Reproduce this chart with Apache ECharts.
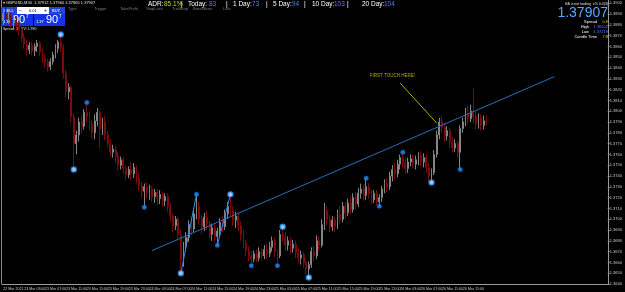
<!DOCTYPE html>
<html>
<head>
<meta charset="utf-8">
<script src="https://cdn.jsdelivr.net/npm/echarts@6/dist/echarts.min.js"></script>
<style>
  html, body { margin: 0; padding: 0; background: #000; }
  #chart { width: 625px; height: 292px; }
</style>
</head>
<body>
<div id="chart"></div>
<script>
// GBPUSD M30, one label every 8 bars (4 hours)
const tickLabels = ['22 Mar 2021', '23 Mar 03:00', '23 Mar 07:00', '23 Mar 11:00', '23 Mar 15:00', '23 Mar 19:00',
  '23 Mar 23:00', '24 Mar 03:00', '24 Mar 07:00', '24 Mar 11:00', '24 Mar 15:00', '24 Mar 19:00',
  '24 Mar 23:00', '25 Mar 03:00', '25 Mar 07:00', '25 Mar 11:00', '25 Mar 15:00', '25 Mar 19:00',
  '25 Mar 23:00', '26 Mar 03:00', '26 Mar 07:00', '26 Mar 11:00', '26 Mar 15:00', '26 Mar 19:00'];
const barsPerLabel = 8;
const totalSlots = 232; // bars + empty chart shift on the right

// [open, close, low, high]
const candles = [
  [1.3884,1.3890,1.3880,1.3895],[1.3890,1.3886,1.3882,1.3897],[1.3886,1.3888,1.3881,1.3893],[1.3888,1.3882,1.3878,1.3891],
  [1.3882,1.3884,1.3877,1.3889],[1.3884,1.3879,1.3874,1.3887],[1.3879,1.3876,1.3870,1.3883],[1.3876,1.3868,1.3864,1.3880],
  [1.3868,1.3862,1.3858,1.3872],[1.3862,1.3857,1.3852,1.3866],[1.3857,1.3861,1.3853,1.3864],[1.3861,1.3856,1.3852,1.3864],
  [1.3856,1.3860,1.3851,1.3863],[1.3860,1.3863,1.3855,1.3866],[1.3863,1.3855,1.3851,1.3865],[1.3855,1.3849,1.3845,1.3858],
  [1.3849,1.3845,1.3840,1.3853],[1.3845,1.3841,1.3837,1.3848],[1.3841,1.3846,1.3838,1.3849],[1.3846,1.3852,1.3843,1.3855],
  [1.3852,1.3858,1.3849,1.3862],[1.3858,1.3864,1.3854,1.3866],[1.3864,1.3859,1.3855,1.3871],[1.3859,1.3835,1.3830,1.3862],
  [1.3835,1.3818,1.3813,1.3838],[1.3818,1.3822,1.3811,1.3826],[1.3822,1.3795,1.3790,1.3824],[1.3795,1.3770,1.3746,1.3798],
  [1.3770,1.3778,1.3760,1.3782],[1.3778,1.3790,1.3772,1.3794],[1.3790,1.3786,1.3779,1.3796],[1.3786,1.3799,1.3783,1.3802],
  [1.3799,1.3795,1.3790,1.3808],[1.3795,1.3788,1.3782,1.3800],[1.3788,1.3780,1.3775,1.3792],[1.3780,1.3791,1.3774,1.3797],
  [1.3791,1.3799,1.3786,1.3803],[1.3799,1.3783,1.3766,1.3801],[1.3783,1.3790,1.3778,1.3794],[1.3790,1.3778,1.3773,1.3795],
  [1.3778,1.3770,1.3766,1.3782],[1.3770,1.3762,1.3758,1.3774],[1.3762,1.3765,1.3757,1.3769],[1.3765,1.3758,1.3752,1.3768],
  [1.3758,1.3750,1.3745,1.3762],[1.3750,1.3755,1.3746,1.3758],[1.3755,1.3747,1.3742,1.3757],[1.3747,1.3741,1.3736,1.3750],
  [1.3741,1.3746,1.3738,1.3749],[1.3746,1.3742,1.3736,1.3752],[1.3742,1.3748,1.3738,1.3752],[1.3748,1.3738,1.3733,1.3750],
  [1.3738,1.3731,1.3726,1.3742],[1.3731,1.3726,1.3720,1.3735],[1.3726,1.3730,1.3711,1.3733],[1.3730,1.3724,1.3719,1.3734],
  [1.3724,1.3728,1.3718,1.3732],[1.3728,1.3721,1.3716,1.3731],[1.3721,1.3725,1.3715,1.3728],[1.3725,1.3719,1.3713,1.3728],
  [1.3719,1.3723,1.3714,1.3727],[1.3723,1.3717,1.3712,1.3726],[1.3717,1.3721,1.3712,1.3724],[1.3721,1.3712,1.3707,1.3724],
  [1.3712,1.3703,1.3698,1.3715],[1.3703,1.3694,1.3688,1.3706],[1.3694,1.3700,1.3690,1.3703],[1.3700,1.3686,1.3680,1.3702],
  [1.3686,1.3662,1.3650,1.3690],[1.3662,1.3675,1.3656,1.3679],[1.3675,1.3683,1.3670,1.3688],[1.3683,1.3695,1.3679,1.3699],
  [1.3695,1.3691,1.3685,1.3702],[1.3691,1.3705,1.3688,1.3710],[1.3705,1.3712,1.3700,1.3723],[1.3712,1.3700,1.3695,1.3716],
  [1.3700,1.3693,1.3687,1.3704],[1.3693,1.3702,1.3689,1.3706],[1.3702,1.3695,1.3690,1.3708],[1.3695,1.3686,1.3682,1.3699],
  [1.3686,1.3692,1.3680,1.3696],[1.3692,1.3684,1.3679,1.3695],[1.3684,1.3689,1.3676,1.3692],[1.3689,1.3697,1.3684,1.3701],
  [1.3697,1.3693,1.3688,1.3703],[1.3693,1.3705,1.3690,1.3709],[1.3705,1.3712,1.3700,1.3716],[1.3712,1.3708,1.3703,1.3723],
  [1.3708,1.3699,1.3694,1.3712],[1.3699,1.3703,1.3692,1.3707],[1.3703,1.3694,1.3689,1.3706],[1.3694,1.3686,1.3680,1.3698],
  [1.3686,1.3678,1.3673,1.3690],[1.3678,1.3671,1.3666,1.3681],[1.3671,1.3666,1.3661,1.3675],[1.3666,1.3663,1.3657,1.3670],
  [1.3663,1.3668,1.3660,1.3671],[1.3668,1.3664,1.3660,1.3672],[1.3664,1.3670,1.3661,1.3674],[1.3670,1.3666,1.3662,1.3673],
  [1.3666,1.3672,1.3663,1.3676],[1.3672,1.3668,1.3664,1.3677],[1.3668,1.3674,1.3665,1.3679],[1.3674,1.3680,1.3670,1.3684],
  [1.3680,1.3670,1.3665,1.3683],[1.3670,1.3666,1.3657,1.3672],[1.3666,1.3686,1.3664,1.3690],[1.3686,1.3684,1.3679,1.3693],
  [1.3684,1.3676,1.3671,1.3688],[1.3676,1.3680,1.3671,1.3684],[1.3680,1.3673,1.3668,1.3683],[1.3673,1.3677,1.3669,1.3681],
  [1.3677,1.3669,1.3664,1.3680],[1.3669,1.3664,1.3659,1.3673],[1.3664,1.3667,1.3658,1.3671],[1.3667,1.3660,1.3655,1.3670],
  [1.3660,1.3654,1.3649,1.3663],[1.3654,1.3658,1.3646,1.3661],[1.3658,1.3670,1.3655,1.3674],[1.3670,1.3666,1.3661,1.3675],
  [1.3666,1.3680,1.3663,1.3685],[1.3680,1.3676,1.3671,1.3684],[1.3676,1.3695,1.3674,1.3700],[1.3695,1.3708,1.3690,1.3715],
  [1.3708,1.3700,1.3694,1.3712],[1.3700,1.3693,1.3688,1.3704],[1.3693,1.3699,1.3689,1.3703],[1.3699,1.3694,1.3688,1.3702],
  [1.3694,1.3705,1.3691,1.3709],[1.3705,1.3700,1.3696,1.3712],[1.3700,1.3712,1.3697,1.3716],[1.3712,1.3706,1.3701,1.3716],
  [1.3706,1.3715,1.3703,1.3719],[1.3715,1.3709,1.3704,1.3720],[1.3709,1.3720,1.3706,1.3724],[1.3720,1.3714,1.3709,1.3725],
  [1.3714,1.3724,1.3711,1.3729],[1.3724,1.3728,1.3719,1.3733],[1.3728,1.3722,1.3717,1.3732],[1.3722,1.3730,1.3718,1.3738],
  [1.3730,1.3724,1.3719,1.3733],[1.3724,1.3718,1.3714,1.3728],[1.3718,1.3724,1.3715,1.3727],[1.3724,1.3716,1.3713,1.3727],
  [1.3716,1.3720,1.3712,1.3723],[1.3720,1.3728,1.3716,1.3731],[1.3728,1.3733,1.3724,1.3737],[1.3733,1.3730,1.3725,1.3738],
  [1.3730,1.3740,1.3727,1.3744],[1.3740,1.3746,1.3735,1.3750],[1.3746,1.3742,1.3737,1.3752],[1.3742,1.3751,1.3739,1.3755],
  [1.3751,1.3757,1.3746,1.3760],[1.3757,1.3752,1.3747,1.3762],[1.3752,1.3747,1.3742,1.3756],[1.3747,1.3753,1.3743,1.3757],
  [1.3753,1.3756,1.3749,1.3760],[1.3756,1.3751,1.3747,1.3760],[1.3751,1.3755,1.3746,1.3759],[1.3755,1.3759,1.3750,1.3762],
  [1.3759,1.3753,1.3749,1.3763],[1.3753,1.3757,1.3748,1.3761],[1.3757,1.3748,1.3743,1.3760],[1.3748,1.3740,1.3735,1.3752],
  [1.3740,1.3743,1.3734,1.3747],[1.3743,1.3760,1.3741,1.3764],[1.3760,1.3778,1.3757,1.3782],[1.3778,1.3790,1.3774,1.3794],
  [1.3790,1.3785,1.3780,1.3796],[1.3785,1.3777,1.3772,1.3789],[1.3777,1.3782,1.3773,1.3786],[1.3782,1.3772,1.3766,1.3785],
  [1.3772,1.3766,1.3762,1.3776],[1.3766,1.3770,1.3762,1.3774],[1.3770,1.3762,1.3757,1.3773],[1.3762,1.3784,1.3746,1.3787],
  [1.3784,1.3790,1.3780,1.3794],[1.3790,1.3798,1.3786,1.3803],[1.3798,1.3793,1.3788,1.3805],[1.3793,1.3800,1.3790,1.3806],
  [1.3800,1.3795,1.3789,1.3821],[1.3795,1.3788,1.3783,1.3800],[1.3788,1.3794,1.3784,1.3798],[1.3794,1.3787,1.3782,1.3797],
  [1.3787,1.3791,1.3783,1.3796],[1.3791,1.37907,1.37865,1.37960]
];

// fractal markers (bar indexes)
const swingHighs = [22, 32, 74, 87, 107, 139, 153];
const swingLows = [27, 54, 68, 82, 95, 105, 117, 144, 164, 175];
const hollowSwings = [22, 27, 68, 87, 107, 117, 164];
const zigzags = [[68, 74], [82, 87]]; // low bar -> high bar

const trendline = [[57, 1.3671], [211, 1.3832]];
const noteText = 'FIRST TOUCH HERE!';
const notePos = [149, 1.3833];
const noteArrow = [[152, 1.3826], [166, 1.3789]];

const priceMin = 1.3640, priceMax = 1.3903, priceStep = 0.0010;

const chart = echarts.init(document.getElementById('chart'));

const categories = [];
for (let i = 0; i < totalSlots; i++) categories.push(String(i));

const dotBlue = '#1e90ff';
function swingPoint(i, isHigh) {
  const hollow = hollowSwings.includes(i);
  return {
    value: [i, isHigh ? candles[i][3] : candles[i][2]],
    symbolSize: hollow ? 5 : 4.5,
    itemStyle: hollow
      ? { color: '#d6ecff', borderColor: dotBlue, borderWidth: 1.4 }
      : { color: dotBlue, borderColor: '#0a5fd0', borderWidth: 0.5 }
  };
}
const swingData = swingHighs.map(i => swingPoint(i, true))
  .concat(swingLows.map(i => swingPoint(i, false)));

const zigzagSeries = zigzags.map(z => ({
  type: 'line',
  data: [[z[0], candles[z[0]][2]], [z[1], candles[z[1]][3]]],
  symbol: 'none',
  lineStyle: { color: '#2d8cf0', width: 1 },
  silent: true,
  z: 3
}));

const lastClose = candles[candles.length - 1][1];

const font = 'Liberation Sans, Arial, sans-serif';
function txt(x, y, s, size, fill, extra) {
  return Object.assign({ type: 'text', left: x, top: y, style: { text: s, fontSize: size, fill: fill, fontFamily: font } }, extra || {});
}

const adr = [
  [148, 'ADR:', '#ffffff'], [164, '85.1%', '#c8d400'], [181, '|', '#ffffff'],
  [188, 'Today:', '#ffffff'], [209, '83', '#4f7fff'], [226, '|', '#ffffff'],
  [233, '1 Day:', '#ffffff'], [252, '73', '#4f7fff'], [266, '|', '#ffffff'],
  [273, '5 Day:', '#ffffff'], [292, '94', '#4f7fff'], [304, '|', '#ffffff'],
  [312, '10 Day:', '#ffffff'], [334, '103', '#4f7fff'], [347, '|', '#ffffff'],
  [362, '20 Day:', '#ffffff'], [384, '104', '#4f7fff']
];
const menu = [[68, 'Type'], [94, 'Trigger'], [120, 'TakeProfit'], [146, 'StopLoss'], [172, 'TrailStop'], [193, 'BreakEven'], [223, 'Lots']];

const graphics = [
  { type: 'line', shape: { x1: 1.5, y1: 0, x2: 1.5, y2: 284 }, style: { stroke: '#8a8a8a', lineWidth: 1 } },
  txt(3, 1, '\u25BE GBPUSD,M30  1.37912 1.37960 1.37865 1.37907', 4, '#e0e0e0'),
  // trade panel
  { type: 'rect', shape: { x: 1, y: 7, width: 16, height: 7 }, style: { fill: '#2145d6' } },
  txt(4, 8.5, 'SELL', 4, '#ffffff'),
  { type: 'rect', shape: { x: 17, y: 7, width: 32, height: 7 }, style: { fill: '#ffffff' } },
  txt(19, 8, '\u2212', 5, '#000000'),
  txt(29, 8.5, '0.01', 4, '#000000'),
  txt(44, 8, '+', 5, '#000000'),
  { type: 'rect', shape: { x: 49, y: 7, width: 16, height: 7 }, style: { fill: '#2145d6' } },
  txt(52, 8.5, 'BUY', 4, '#ffffff'),
  { type: 'rect', shape: { x: 1, y: 14, width: 32, height: 12 }, style: { fill: '#1433e6' } },
  { type: 'rect', shape: { x: 34, y: 14, width: 31, height: 12 }, style: { fill: '#1433e6' } },
  txt(3, 20, '1.37', 4, '#ffffff'),
  txt(13, 14.5, '90', 11, '#ffffff'),
  txt(26, 14.5, '7', 4.5, '#ffffff'),
  txt(36, 20, '1.37', 4, '#ffffff'),
  txt(46, 14.5, '90', 11, '#ffffff'),
  txt(59, 14.5, '7', 4.5, '#ffffff'),
  txt(3, 27, 'Spread: 1   PV: 1.990', 3.5, '#e0e0e0'),
  // right info panel
  txt(null, 2, 'EA is not trading  \u00B1% 0.0(3)', 3.5, '#e0e0e0', { right: 17 }),
  txt(null, 6, '1.37907', 14, '#58a6ff', { right: 17 }),
  txt(null, 20, 'Spread', 4, '#ffffff', { right: 28 }),
  txt(null, 20, '0.9', 4, '#e0c800', { right: 17 }),
  txt(null, 25, 'High', 4, '#ffffff', { right: 36 }),
  txt(null, 25, '1.38102', 4, '#4f7fff', { right: 17 }),
  txt(null, 30, 'Low', 4, '#ffffff', { right: 36 }),
  txt(null, 30, '1.37219', 4, '#4f7fff', { right: 17 }),
  txt(null, 35, 'Candle Time', 4, '#ffffff', { right: 28 }),
  txt(null, 35, '7:8', 4, '#e0c800', { right: 17 })
];
adr.forEach(a => graphics.push(txt(a[0], 1, a[1], 6.5, a[2])));
menu.forEach(m => graphics.push(txt(m[0], 7, m[1], 4, '#7d7d7d')));

const labelShown = (i) => i % barsPerLabel === 0 && i / barsPerLabel < tickLabels.length;

const option = {
  backgroundColor: '#000000',
  animation: false,
  grid: { left: 2, right: 14, top: 0, bottom: 8 },
  xAxis: {
    type: 'category',
    data: categories,
    boundaryGap: true,
    axisLine: { lineStyle: { color: '#9a9a9a', width: 1 } },
    axisTick: { alignWithLabel: true, length: 2, lineStyle: { color: '#9a9a9a' }, interval: labelShown },
    axisLabel: {
      interval: labelShown,
      formatter: (v, i) => tickLabels[i / barsPerLabel] || '',
      color: '#c8c8c8', fontSize: 3.6, fontFamily: font, align: 'left', margin: 2.5
    },
    splitLine: { show: false }
  },
  yAxis: {
    type: 'value',
    position: 'right',
    min: priceMin,
    max: priceMax,
    interval: priceStep,
    axisLine: { show: true, lineStyle: { color: '#9a9a9a', width: 1 } },
    axisTick: { show: true, length: 2, lineStyle: { color: '#9a9a9a' } },
    axisLabel: {
      formatter: (v) => v.toFixed(4),
      color: '#c8c8c8', fontSize: 4, fontFamily: font, margin: 2,
      showMaxLabel: false
    },
    splitLine: { show: false }
  },
  series: [
    {
      type: 'candlestick',
      data: candles,
      barWidth: 1.4,
      itemStyle: {
        color: '#858585', color0: '#7a0c0c',
        borderColor: '#858585', borderColor0: '#7a0c0c', borderWidth: 1
      },
      markLine: {
        silent: true,
        symbol: 'none',
        data: [{ yAxis: lastClose }],
        lineStyle: { opacity: 0 },
        label: {
          position: 'end', formatter: lastClose.toFixed(5),
          backgroundColor: '#ffffff', color: '#000000', fontSize: 4, fontFamily: font,
          padding: [1, 1, 0, 1], distance: 0
        }
      },
      z: 2
    },
    {
      type: 'line',
      data: trendline,
      symbol: 'none',
      lineStyle: { color: '#2a6fb8', width: 1 },
      silent: true,
      z: 3
    },
    ...zigzagSeries,
    {
      type: 'line',
      data: noteArrow,
      symbol: 'none',
      lineStyle: { color: '#b0b000', width: 1 },
      silent: true,
      z: 3
    },
    {
      type: 'scatter',
      data: [notePos],
      symbolSize: 0,
      label: { show: true, formatter: noteText, color: '#d4d400', fontSize: 4.5, fontFamily: font, position: 'inside' },
      silent: true
    },
    {
      type: 'scatter',
      data: swingData,
      symbol: 'circle',
      silent: true,
      z: 5
    }
  ],
  graphic: graphics
};

chart.setOption(option);
</script>
</body>
</html>
